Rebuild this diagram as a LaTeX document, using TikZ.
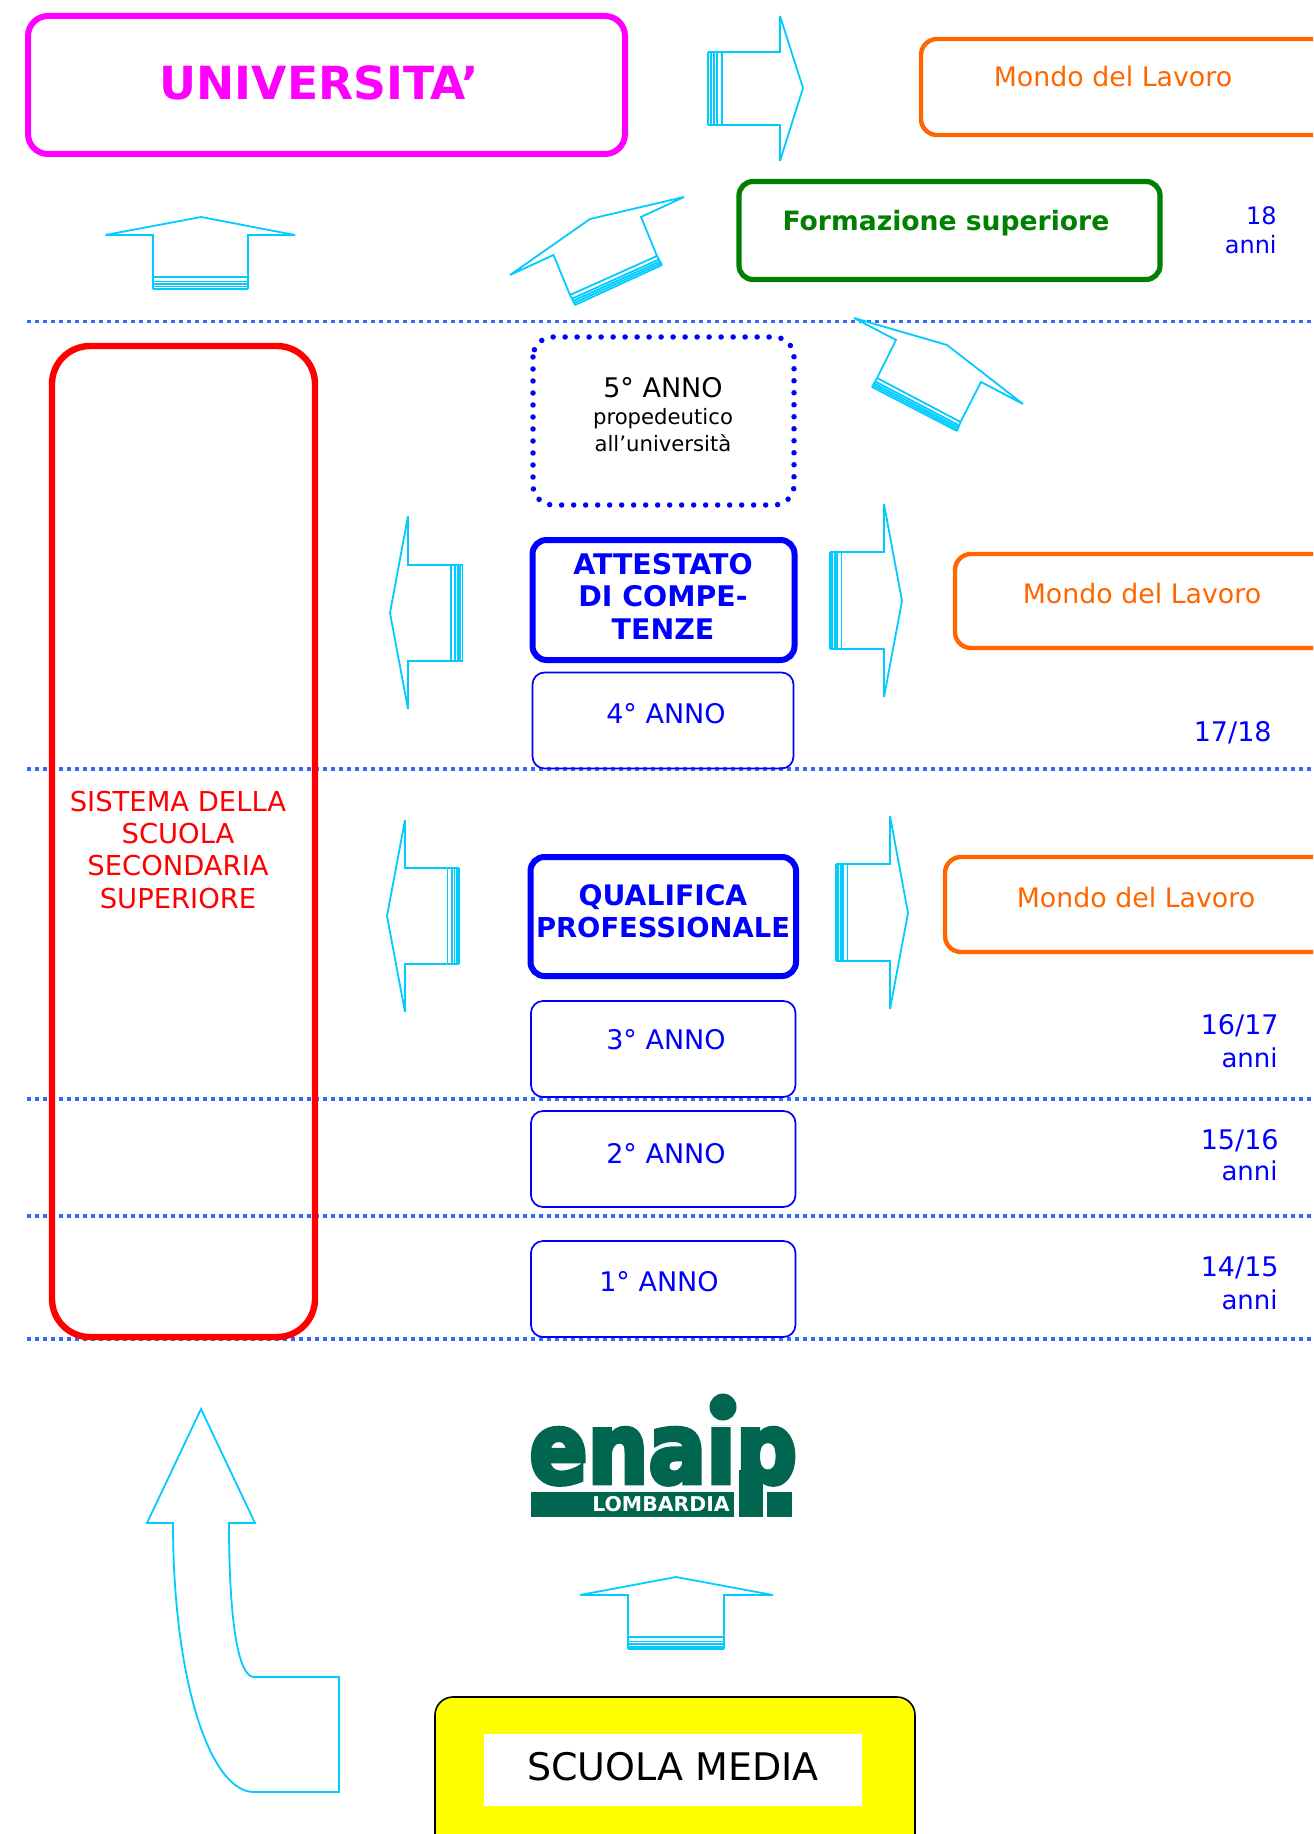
\documentclass[tikz,border=0pt]{standalone}
\usepackage{fontspec}
\usetikzlibrary{calc}
\setmainfont{DejaVu Sans}
\newfontfamily\logofont[FakeBold=5]{DejaVu Sans Bold}
\definecolor{arrowcyan}{RGB}{0,204,255}
\definecolor{dotblue}{RGB}{51,102,255}
\definecolor{workorange}{RGB}{255,102,0}
\definecolor{formgreen}{RGB}{0,128,0}
\definecolor{logogreen}{RGB}{0,102,80}
\definecolor{unimag}{RGB}{255,0,255}
\definecolor{boxyellow}{RGB}{255,255,0}
\definecolor{pureblue}{RGB}{0,0,255}
\definecolor{purered}{RGB}{255,0,0}
\newcommand{\fs}[1]{\fontsize{#1}{#1}\selectfont}
\newcommand{\tailstripes}[4]{%
  \foreach \f in {0,.38,.6,.8,1}{\draw[arrowline] ($#1!\f!#3$) -- ($#2!\f!#4$);}
  \draw[arrowline] #1 -- #3; \draw[arrowline] #2 -- #4;}
\tikzset{
  arrowline/.style={draw=arrowcyan,line width=0.9pt,line join=miter,miter limit=3},
  levelline/.style={draw=dotblue,line width=1.75pt,dash pattern=on 2pt off 2pt},
  yearbox/.style={draw=pureblue,line width=0.85pt,rounded corners=6pt},
  certbox/.style={draw=pureblue,line width=3pt,rounded corners=7pt},
  workbox/.style={draw=workorange,line width=2.2pt,rounded corners=8pt},
  yeartext/.style={text=pureblue,font=\fs{13.5},inner sep=0pt},
  worktext/.style={text=workorange,font=\fs{13.4},inner sep=0pt},
  certtext/.style={text=pureblue,inner sep=0pt,align=center},
  agetext/.style={text=pureblue,font=\fs{13.5},inner sep=0pt,anchor=east},
  annitext/.style={text=pureblue,font=\fs{13},inner sep=0pt,anchor=east},
  redtext/.style={text=purered,font=\fs{13.7},inner sep=0pt},
}
\begin{document}
\begin{tikzpicture}[x=0.5pt,y=-0.5pt]
\useasboundingbox (0,0) rectangle (1313,1834);
\clip (0,0) rectangle (1313,1834);
\fill[white] (0,0) rectangle (1313,1834);

% level lines
\foreach \ly in {321.5,769,1099,1216,1339}{\draw[levelline] (27,\ly) -- (1313,\ly);}

% top row
\draw[draw=unimag,line width=3pt,rounded corners=10pt] (28,16) rectangle (625,154);
\node[text=unimag,font=\fs{22.8}\bfseries,inner sep=0pt] (uni) at (319.5,83) {UNIVERSITA’};
\draw[workbox] (921,39) rectangle (1400,135);
\node[worktext] (work1) at (1113,77) {Mondo del Lavoro};
\draw[draw=formgreen,line width=2.6pt,rounded corners=7pt] (739,181.5) rectangle (1160,279.5);
\node[text=formgreen,font=\fs{13.3}\bfseries,inner sep=0pt] (form) at (946,223) {Formazione superiore};
\node[agetext,font=\fs{12}] (a18) at (1277,216) {18};
\node[agetext,font=\fs{12}] (a18b) at (1277,245) {anni};

% red column
\draw[draw=purered,line width=3.2pt,rounded corners=19pt] (52,346) rectangle (315,1337);
\node[redtext] (r1) at (178,802) {SISTEMA DELLA};
\node[redtext] (r2) at (178,834) {SCUOLA};
\node[redtext] (r3) at (178,866) {SECONDARIA};
\node[redtext] (r4) at (178,898.5) {SUPERIORE};

% centre column
\draw[draw=pureblue,line width=2.75pt,dash pattern=on 0pt off 6pt,line cap=round,rounded corners=10pt] (533,337) rectangle (794,505);
\node[font=\fs{13.5},inner sep=0pt] (y5) at (663,388) {5° ANNO};
\node[font=\fs{10.6},inner sep=0pt] (y5a) at (663,419) {propedeutico};
\node[font=\fs{10.6},inner sep=0pt] (y5b) at (663,443) {all’università};

\draw[certbox] (532.5,540) rectangle (794.5,660);
\node[certtext,font=\fs{14.2}\bfseries] (c1) at (663,564) {ATTESTATO};
\node[certtext,font=\fs{14.2}\bfseries] (c2) at (663,596) {DI COMPE-};
\node[certtext,font=\fs{14.2}\bfseries] (c3) at (663,629) {TENZE};
\draw[yearbox] (532.5,672.5) rectangle (793.5,768.5);
\node[yeartext] (y4) at (666,714) {4° ANNO};

\draw[certbox] (530.5,857) rectangle (796,976);
\node[certtext,font=\fs{14.1}\bfseries] (q1) at (663,897) {QUALIFICA};
\node[certtext,font=\fs{13.7}\bfseries] (q2) at (663,928) {PROFESSIONALE};
\draw[yearbox] (531,1001) rectangle (795.5,1097);
\node[yeartext] (y3) at (666,1040) {3° ANNO};
\draw[yearbox] (531,1111) rectangle (795.5,1207);
\node[yeartext] (y2) at (666,1154) {2° ANNO};
\draw[yearbox] (531,1241) rectangle (795.5,1337);
\node[yeartext] (y1) at (659,1282) {1° ANNO};

% right column
\draw[workbox] (955,554) rectangle (1400,648);
\node[worktext] (work2) at (1142,594) {Mondo del Lavoro};
\draw[workbox] (945,857) rectangle (1400,952);
\node[worktext] (work3) at (1136,898) {Mondo del Lavoro};

\node[agetext] (a17) at (1272,733) {17/18};
\node[agetext] (a16) at (1279,1026) {16/17};
\node[annitext] (a16b) at (1278,1058) {anni};
\node[agetext] (a15) at (1279,1141) {15/16};
\node[annitext] (a15b) at (1278,1171) {anni};
\node[agetext] (a14) at (1279,1268) {14/15};
\node[annitext] (a14b) at (1278,1300) {anni};

% straight arrows: top right
\draw[arrowline] (722,52) -- (780,52) -- (780,16) -- (803,88) -- (780,161) -- (780,125) -- (722,125);
\tailstripes{(722,52)}{(722,125)}{(708,52)}{(708,125)}
% up left
\draw[arrowline] (153,277) -- (153,235) -- (105.5,235) -- (201,217) -- (295,235) -- (248,235) -- (248,277);
\tailstripes{(153,277)}{(248,277)}{(153,289)}{(248,289)}
% diagonal to formazione
\draw[arrowline] (570,295) -- (553.5,255) -- (510,275) -- (590,219) -- (684,197) -- (641,217) -- (657,256);
\tailstripes{(570,295)}{(657,256)}{(575,305)}{(662,265)}
% diagonal from 5 anno
\draw[arrowline] (877,378) -- (896,340) -- (854,318) -- (947,345) -- (1023,404) -- (981,382) -- (960.5,422);
\tailstripes{(877,378)}{(960.5,422)}{(872,387)}{(957,431)}
% left of attestato
\draw[arrowline] (451,565) -- (408,565) -- (408,516) -- (390,613) -- (408,709) -- (408,661) -- (451,661);
\tailstripes{(451,565)}{(451,661)}{(462.5,565)}{(462.5,661)}
% right of attestato
\draw[arrowline] (841.5,552) -- (884,552) -- (884,504) -- (902,601) -- (884,697) -- (884,649) -- (841.5,649);
\tailstripes{(841.5,552)}{(841.5,649)}{(830,552)}{(830,649)}
% left of qualifica
\draw[arrowline] (447.5,868) -- (405,868) -- (405,820) -- (387,916) -- (405,1012) -- (405,964) -- (447.5,964);
\tailstripes{(447.5,868)}{(447.5,964)}{(459,868)}{(459,964)}
% right of qualifica
\draw[arrowline] (847.5,864) -- (890,864) -- (890,816) -- (908,913) -- (890,1009) -- (890,961) -- (847.5,961);
\tailstripes{(847.5,864)}{(847.5,961)}{(836,864)}{(836,961)}
% bottom centre
\draw[arrowline] (628,1637) -- (628,1595) -- (580,1595) -- (676,1577) -- (773,1595) -- (724,1595) -- (724,1637);
\tailstripes{(628,1637)}{(724,1637)}{(628,1649)}{(724,1649)}
% curved arrow
\draw[arrowline] (339,1677) -- (254,1677) .. controls (238,1677) and (229,1620) .. (229,1523) -- (255,1523) -- (201,1409) -- (147,1523) -- (173,1523) .. controls (173,1680) and (210,1792) .. (254,1792) -- (339,1792) -- cycle;

% logo
\node[text=logogreen,inner sep=0pt,anchor=base west] (enaip) at (529,1483)
  {\raisebox{0pt}[\height][0pt]{\scalebox{1.19}[1.36]{\logofont\fs{36}enaip}}};
\fill[white] (696,1380) rectangle (750,1425);
\fill[logogreen] (723,1407) circle[radius=13.5];
\fill[white] (525,1488) rectangle (800,1492);
\fill[logogreen] (739,1470) rectangle (763,1517);
\fill[logogreen] (531,1492) rectangle (734,1517);
\fill[logogreen] (767,1492) rectangle (792,1517);
\node[text=white,font=\fs{10.2}\bfseries,inner sep=0pt] (lomb) at (661,1504) {LOMBARDIA};

% scuola media
\draw[fill=boxyellow,draw=black,line width=0.8pt,rounded corners=9pt] (435,1697) rectangle (915,1880);
\fill[white] (484,1734) rectangle (862,1806);
\node[font=\fs{19},inner sep=0pt] (media) at (673,1767) {SCUOLA MEDIA};
\end{tikzpicture}
\end{document}
